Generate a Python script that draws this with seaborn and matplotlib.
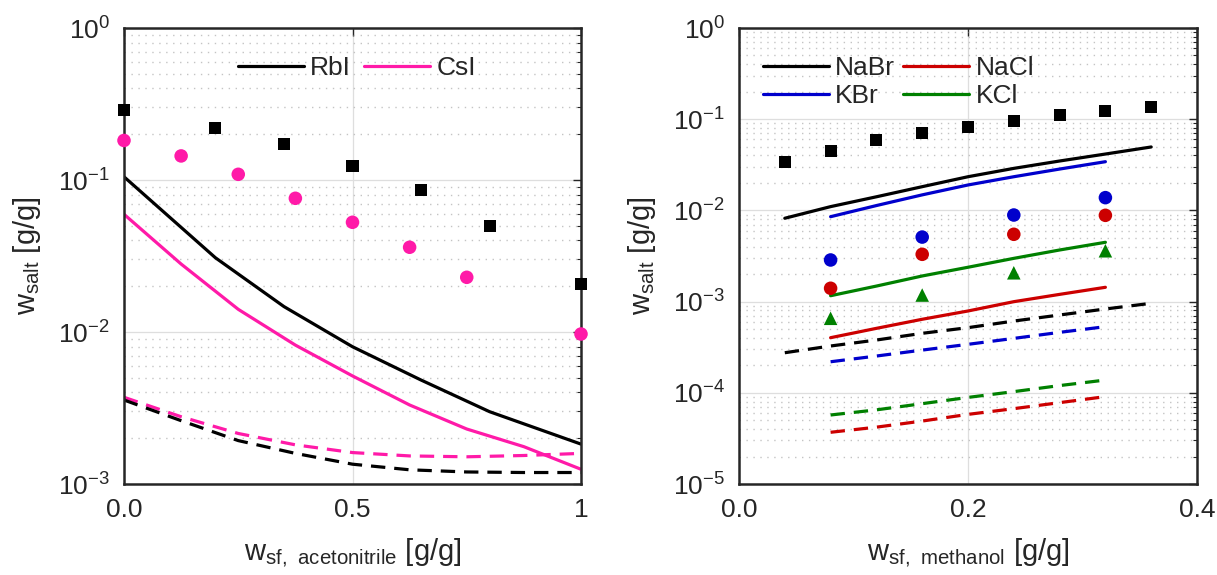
import matplotlib
matplotlib.use("Agg")
import matplotlib.pyplot as plt
import seaborn as sns
import numpy
from matplotlib.ticker import LogLocator, LogFormatterMathtext, NullFormatter, FixedLocator, FixedFormatter

# ---- left panel: acetonitrile ----
x_rbi_exp = [0.0, 0.2, 0.35, 0.5, 0.65, 0.8, 1.0]
y_rbi_exp = [0.289, 0.221, 0.172, 0.124, 0.086, 0.0498, 0.0206]
x_csi_exp = [0.0, 0.125, 0.25, 0.375, 0.5, 0.625, 0.75, 1.0]
y_csi_exp = [0.182, 0.144, 0.109, 0.0758, 0.0527, 0.0361, 0.0229, 0.0097]

x_rbi_mod = [0.0, 0.2, 0.35, 0.5, 0.65, 0.8, 1.0]
y_rbi_mod = [0.105, 0.0308, 0.0147, 0.0080, 0.00483, 0.00299, 0.00183]
x_csi_mod = [0.0, 0.125, 0.25, 0.375, 0.5, 0.625, 0.75, 0.875, 1.0]
y_csi_mod = [0.0595, 0.028, 0.0141, 0.0082, 0.00514, 0.00331, 0.0023, 0.00176, 0.00125]

x_dash_l = [0.0, 0.125, 0.25, 0.375, 0.5, 0.625, 0.75, 0.875, 1.0]
y_csi_dash = [0.00372, 0.00277, 0.00215, 0.00181, 0.00161, 0.00153, 0.00151, 0.00154, 0.00159]
y_rbi_dash = [0.00357, 0.00261, 0.00193, 0.00159, 0.00135, 0.00124, 0.0012, 0.00119, 0.00119]

# ---- right panel: methanol ----
x_nabr_exp = [0.04, 0.08, 0.12, 0.16, 0.2, 0.24, 0.28, 0.32, 0.36]
y_nabr_exp = [0.0342, 0.0452, 0.0591, 0.0711, 0.0828, 0.0963, 0.111, 0.124, 0.137]
x_exp = [0.08, 0.16, 0.24, 0.32]
y_kbr_exp = [0.00286, 0.0051, 0.0089, 0.0138]
y_nacl_exp = [0.0014, 0.0033, 0.00547, 0.00883]
y_kcl_exp = [0.000656, 0.00118, 0.00207, 0.00361]

x_nabr_mod = [0.04, 0.08, 0.12, 0.16, 0.2, 0.24, 0.28, 0.32, 0.36]
y_nabr_mod = [0.0082, 0.011, 0.0141, 0.0182, 0.0234, 0.0289, 0.0348, 0.0415, 0.0496]
y_nabr_dash = [0.000275, 0.000326, 0.000379, 0.000449, 0.000518, 0.000612, 0.000713, 0.00083, 0.000958]
x_mod = [0.08, 0.12, 0.16, 0.2, 0.24, 0.28, 0.32]
y_kbr_mod = [0.00853, 0.0113, 0.0148, 0.019, 0.0234, 0.0284, 0.0342]
y_kcl_mod = [0.00116, 0.00148, 0.00191, 0.00238, 0.00298, 0.00368, 0.00447]
y_nacl_mod = [0.000402, 0.000509, 0.00064, 0.000789, 0.000998, 0.0012, 0.001435]
y_kbr_dash = [0.000219, 0.000253, 0.000294, 0.00034, 0.000395, 0.00046, 0.000531]
y_kcl_dash = [5.71e-5, 6.5e-5, 7.6e-5, 8.9e-5, 0.000103, 0.00012, 0.000138]
y_nacl_dash = [3.69e-5, 4.2e-5, 4.9e-5, 5.8e-5, 6.7e-5, 7.8e-5, 9.08e-5]

BLACK = "#000000"
PINK = "#ff1aa8"
RED = "#cc0000"
BLUE = "#0000cc"
GREEN = "#008000"

sns.set_theme(style="white")
plt.rcParams['font.family'] = ['Liberation Sans', 'DejaVu Sans']
plt.rcParams['mathtext.default'] = 'regular'
plt.rcParams['font.size'] = 18

LW = 2.3
DASH = (4.5, 2.8)

fig = plt.figure(figsize=(12.17, 5.75), dpi=100)
ax1 = fig.add_axes([124/1217, 91/575, 457/1217, 456/575])
ax2 = fig.add_axes([739/1217, 91/575, 458/1217, 456/575])


def solid(ax, x, y, c, lab):
    return sns.lineplot(x=x, y=y, ax=ax, color=c, lw=LW, label=lab, sort=False, estimator=None)


def dashed(ax, x, y, c):
    ax.plot(x, y, color=c, lw=LW, dashes=DASH)


def pts(ax, x, y, c, m, s=80):
    sns.scatterplot(x=x, y=y, ax=ax, color=c, marker=m, s=s, edgecolor="none",
                    zorder=5, legend=False, clip_on=False)


# left
solid(ax1, x_rbi_mod, y_rbi_mod, BLACK, "RbI")
solid(ax1, x_csi_mod, y_csi_mod, PINK, "CsI")
dashed(ax1, x_dash_l, y_csi_dash, PINK)
dashed(ax1, x_dash_l, y_rbi_dash, BLACK)
pts(ax1, x_rbi_exp, y_rbi_exp, BLACK, "s", 75)
pts(ax1, x_csi_exp, y_csi_exp, PINK, "o", 95)

# right
solid(ax2, x_nabr_mod, y_nabr_mod, BLACK, "NaBr")
solid(ax2, x_mod, y_kbr_mod, BLUE, "KBr")
solid(ax2, x_mod, y_nacl_mod, RED, "NaCl")
solid(ax2, x_mod, y_kcl_mod, GREEN, "KCl")
dashed(ax2, x_nabr_mod, y_nabr_dash, BLACK)
dashed(ax2, x_mod, y_kbr_dash, BLUE)
dashed(ax2, x_mod, y_kcl_dash, GREEN)
dashed(ax2, x_mod, y_nacl_dash, RED)
pts(ax2, x_nabr_exp, y_nabr_exp, BLACK, "s", 75)
pts(ax2, x_exp, y_kbr_exp, BLUE, "o", 95)
pts(ax2, x_exp, y_nacl_exp, RED, "o", 95)
pts(ax2, x_exp, y_kcl_exp, GREEN, "^", 95)

for ax, ymin, xmax, xt, xl in [(ax1, 1e-3, 1.0, [0, 0.5, 1.0], ["0.0", "0.5", "1"]),
                               (ax2, 1e-5, 0.4, [0, 0.2, 0.4], ["0.0", "0.2", "0.4"])]:
    ax.set_yscale("log")
    ax.set_ylim(ymin, 1)
    ax.set_xlim(0, xmax)
    ax.xaxis.set_major_locator(FixedLocator(xt))
    ax.xaxis.set_major_formatter(FixedFormatter(xl))
    ax.yaxis.set_major_locator(LogLocator(base=10, numticks=10))
    ax.yaxis.set_major_formatter(LogFormatterMathtext())
    ax.yaxis.set_minor_locator(LogLocator(base=10, subs=numpy.arange(2, 10), numticks=20))
    ax.yaxis.set_minor_formatter(NullFormatter())
    ax.grid(True, which="major", color="#dedede", lw=0.9, ls="-")
    ax.grid(True, which="minor", axis="y", color="#c4c4c4", lw=1.0, ls=(0, (1, 4)))
    ax.set_axisbelow(True)
    ax.tick_params(which="both", direction="in", top=True, right=True, colors="#262626",
                   labelcolor="#262626", labelsize=19)
    ax.tick_params(which="major", length=6, width=1.0, pad=10)
    ax.tick_params(which="minor", length=3, width=0.8)
    for sp in ax.spines.values():
        sp.set_color("#262626")
        sp.set_linewidth(1.8)
    ax.set_ylabel("w$_{salt}$ [g/g]", fontsize=21, color="#262626", labelpad=11)

ax1.set_xlabel("w$_{sf,\\ acetonitrile}$ [g/g]", fontsize=21, color="#262626", labelpad=10)
ax2.set_xlabel("w$_{sf,\\ methanol}$ [g/g]", fontsize=21, color="#262626", labelpad=10)

ax1.legend(ncol=2, frameon=False, loc="upper center", bbox_to_anchor=(0.51, 0.99),
           handlelength=2.5, columnspacing=0.5, handletextpad=0.25, fontsize=19)
ax2.legend(ncol=2, frameon=False, loc="upper left", bbox_to_anchor=(0.0, 0.99),
           handlelength=2.5, columnspacing=0.3, handletextpad=0.25, labelspacing=0.15, fontsize=19)

fig.savefig("out.png", dpi=100)
